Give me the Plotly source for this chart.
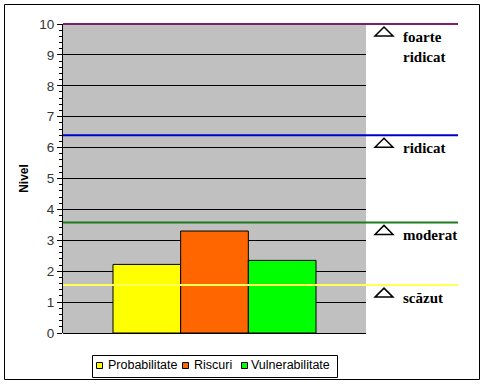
import plotly.graph_objects as go

# Data
series_names = ["Probabilitate", "Riscuri", "Vulnerabilitate"]
series_values = [2.22, 3.30, 2.35]
series_colors = ["#FFFF00", "#FF6600", "#00FF00"]

level_names = ["scăzut", "moderat", "ridicat", "foarte<br>ridicat"]
level_values = [1.55, 3.58, 6.40, 10.0]
level_colors = ["#FFFF55", "#1E7B1E", "#0000CC", "#7A1F6E"]

y_ticks = list(range(0, 11))
y_range = [0, 10]

fig = go.Figure()
for name, val, col in zip(series_names, series_values, series_colors):
    fig.add_trace(go.Bar(
        x=[0], y=[val], name=name, showlegend=False, hoverinfo="skip",
        marker=dict(color=col, line=dict(color="black", width=1)),
    ))

W, H = 486, 386
L, R, T, B = 63, 120, 24, 53
pw = W - L - R
ph = H - T - B

def px_x(px):
    return (px - L) / pw

def px_y(py):
    return (H - B - py) / ph

def val_to_paper(v):
    return (v - y_range[0]) / (y_range[1] - y_range[0])

shapes = []
annotations = []
# outer border
shapes.append(dict(type="rect", xref="paper", yref="paper",
                   x0=px_x(4.5), x1=px_x(479.5), y0=px_y(379.5), y1=px_y(4.5),
                   line=dict(color="black", width=1), layer="above"))

for name, val, col in zip(level_names, level_values, level_colors):
    yp = val_to_paper(val)
    shapes.append(dict(type="line", xref="paper", yref="paper",
                       x0=0, x1=px_x(458), y0=yp, y1=yp,
                       line=dict(color=col, width=2), layer="above"))
    shapes.append(dict(type="path", xref="paper", yref="paper",
                       xsizemode="pixel", ysizemode="pixel",
                       xanchor=px_x(384), yanchor=yp,
                       path="M -9,-12 L 9,-12 L 0,-3 Z",
                       fillcolor="white", line=dict(color="black", width=1.5),
                       layer="above"))
    two = "<br>" in name
    annotations.append(dict(xref="paper", yref="paper", x=px_x(401), y=yp,
                            yshift=-23 if two else -13,
                            text="<b>" + name + "</b>", showarrow=False,
                            xanchor="left", yanchor="middle", align="left",
                            font=dict(family="Liberation Serif, Times New Roman, serif",
                                      size=15, color="black")))

# custom legend (box, swatches, labels)
legend_box = (92.5, 337.5, 355.5, 377.5)
legend_swatch_x = [96, 182, 241]
legend_text_x = [106, 192, 249]
legend_mid_y = 365
shapes.append(dict(type="rect", xref="paper", yref="paper",
                   x0=px_x(legend_box[0]), x1=px_x(legend_box[1]),
                   y0=px_y(legend_box[3]), y1=px_y(legend_box[2]),
                   fillcolor="white", line=dict(color="black", width=1), layer="above"))
for name, col, sx, tx in zip(series_names, series_colors, legend_swatch_x, legend_text_x):
    shapes.append(dict(type="rect", xref="paper", yref="paper",
                       x0=px_x(sx + 0.5), x1=px_x(sx + 6.5),
                       y0=px_y(legend_mid_y + 3.5), y1=px_y(legend_mid_y - 2.5),
                       fillcolor=col, line=dict(color="black", width=1), layer="above"))
    annotations.append(dict(xref="paper", yref="paper", x=px_x(tx), y=px_y(legend_mid_y),
                            text=name, showarrow=False, xanchor="left", yanchor="middle",
                            font=dict(family="Liberation Sans, Arial, sans-serif",
                                      size=12.5, color="black")))

fig.update_layout(
    width=W, height=H,
    margin=dict(l=L, r=R, t=T, b=B, autoexpand=False),
    paper_bgcolor="white",
    plot_bgcolor="#C0C0C0",
    barmode="group",
    bargap=0.33,
    bargroupgap=0,
    showlegend=False,
    hovermode=False,
    font=dict(family="Liberation Sans, Arial, sans-serif", size=12, color="black"),
    xaxis=dict(range=[-0.5, 0.5], showticklabels=False, showgrid=False,
               zeroline=False, showline=False, ticks="", fixedrange=True),
    yaxis=dict(range=y_range, tickvals=y_ticks, ticks="outside", ticklen=5,
               tickcolor="black", showline=True, linecolor="black", linewidth=1,
               showgrid=True, gridcolor="black", gridwidth=1,
               zeroline=True, zerolinecolor="black", zerolinewidth=1,
               automargin=False, fixedrange=True,
               tickfont=dict(size=13.5, color="#333333"),
               minor=dict(dtick=0.2, ticks="outside", ticklen=3, tickcolor="black",
                          showgrid=False),
               title=dict(text="<b>Nivel</b>", font=dict(size=12, color="black"),
                          standoff=8)),
    shapes=shapes,
    annotations=annotations,
)

fig.write_html("out.html",
               config={"displayModeBar": False, "staticPlot": True},
               post_script="document.body.style.margin='0';document.body.style.overflow='hidden';")
